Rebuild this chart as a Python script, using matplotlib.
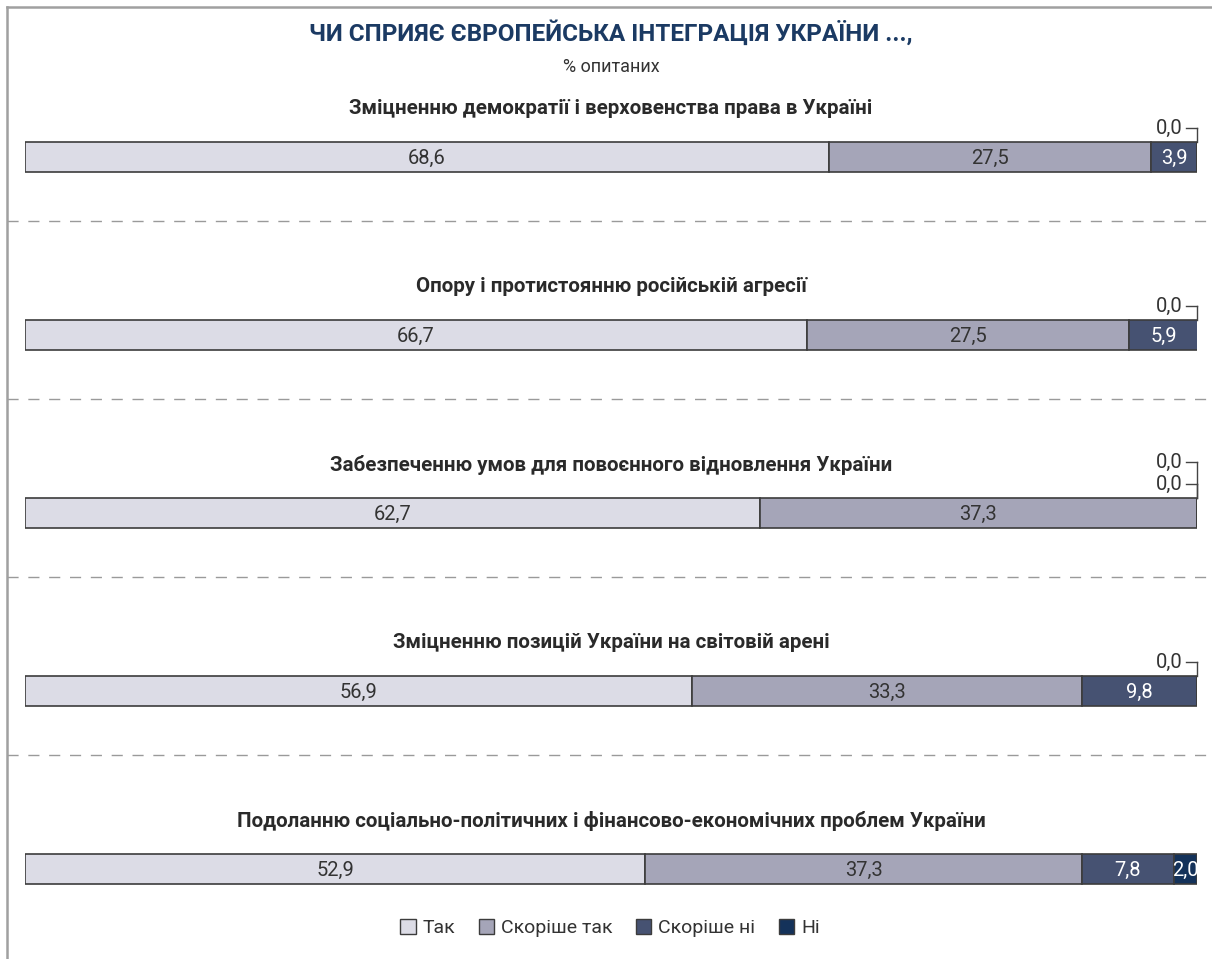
import matplotlib
matplotlib.use("Agg")
import matplotlib.pyplot as plt
from matplotlib.patches import Patch
from matplotlib.lines import Line2D
import matplotlib.transforms as mtransforms

# ---------------- data ----------------
categories = [
    "Зміцненню демократії і верховенства права в Україні",
    "Опору і протистоянню російській агресії",
    "Забезпеченню умов для повоєнного відновлення України",
    "Зміцненню позицій України на світовій арені",
    "Подоланню соціально-політичних і фінансово-економічних проблем України",
]
series_names = ["Так", "Скоріше так", "Скоріше ні", "Ні"]
tak = [68.6, 66.7, 62.7, 56.9, 52.9]
skorishe_tak = [27.5, 27.5, 37.3, 33.3, 37.3]
skorishe_ni = [3.9, 5.9, 0.0, 9.8, 7.8]
ni = [0.0, 0.0, 0.0, 0.0, 2.0]

title = "ЧИ СПРИЯЄ ЄВРОПЕЙСЬКА ІНТЕГРАЦІЯ УКРАЇНИ ...,"
subtitle = "% опитаних"

# ---------------- style ----------------
colors = ["#dcdce6", "#a5a5b8", "#465272", "#14325a"]
label_colors = ["#333333", "#333333", "white", "white"]
edge = "#3c3c3c"
title_color = "#1b3a63"

plt.rcParams["font.family"] = ["Roboto", "DejaVu Sans"]

W, H = 1212, 959
fig = plt.figure(figsize=(W / 100, H / 100), dpi=100)
fig.patch.set_facecolor("white")

bar_left_px, bar_right_px = 25, 1197
first_center_px, step_px = 157, 178
ax = fig.add_axes([bar_left_px / W, 0, (bar_right_px - bar_left_px) / W, 1])
ax.set_xlim(0, 100)
ax.set_ylim((H - first_center_px) / step_px, -first_center_px / step_px)
ax.axis("off")

px = 1.0 / step_px  # one pixel in y data units
bar_h = 30 * px

series = [tak, skorishe_tak, skorishe_ni, ni]
ypos = list(range(len(categories)))
lefts = [0.0] * len(categories)
for s, vals in enumerate(series):
    ax.barh(ypos, vals, left=lefts, height=bar_h, color=colors[s],
            edgecolor=edge, linewidth=1.2, zorder=2)
    for i, v in enumerate(vals):
        if v > 0:
            ax.text(lefts[i] + v / 2, i + 1 * px, f"{v:.1f}".replace(".", ","),
                    ha="center", va="center", fontsize=14.5, fontweight="normal",
                    color=label_colors[s], zorder=3)
    lefts = [l + v for l, v in zip(lefts, vals)]

# zero-value callouts
for i in ypos:
    zeros = [s for s in range(len(series)) if series[s][i] == 0]
    top = i - bar_h / 2
    for k, s in enumerate(zeros):
        y = top - (14 + 22 * k) * px
        ax.text(98.8, y, "0,0", ha="right", va="center", fontsize=14.5,
                fontweight="normal", color="#333333", zorder=3)
        ax.add_line(Line2D([99.05, 100], [y, y], color="#444444", lw=1.0, clip_on=False))
        ax.add_line(Line2D([100, 100], [y, top], color="#444444", lw=1.0, clip_on=False))

# group titles
for i, c in enumerate(categories):
    ax.text(50, i - 48 * px, c, ha="center", va="center", fontsize=14.8,
            fontweight="bold", color="#2a2a2a")

# dashed separators
blend = mtransforms.blended_transform_factory(fig.transFigure, ax.transData)
for i in ypos[:-1]:
    y = i + 64 * px
    ax.add_line(Line2D([7 / W, 1.0], [y, y], transform=blend, color="#9a9a9a",
                       lw=1.0, dashes=(8, 7), clip_on=False))

# frame (top and left)
fig.add_artist(Line2D([6.5 / W, 1.0], [1 - 6.5 / H, 1 - 6.5 / H], color="#a0a0a0", lw=1.8))
fig.add_artist(Line2D([6.5 / W, 6.5 / W], [0, 1 - 6.5 / H], color="#a0a0a0", lw=1.8))

# title
cx = (bar_left_px + bar_right_px) / 2 / W
fig.text(cx, 1 - 33 / H, title, ha="center", va="center", fontsize=17.5,
         fontweight="bold", color=title_color)
fig.text(cx, 1 - 67 / H, subtitle, ha="center", va="center", fontsize=13,
         fontweight="normal", color="#333333")

# legend
handles = [Patch(facecolor=colors[s], edgecolor=edge, linewidth=1.0) for s in range(4)]
fig.legend(handles, series_names, loc="center", bbox_to_anchor=(610 / W, 1 - 928 / H),
           ncol=4, frameon=False, handlelength=0.8, handleheight=0.8,
           handletextpad=0.35, columnspacing=1.2, labelcolor="#333333",
           prop={"weight": "normal", "size": 14})

fig.savefig("out.png", dpi=100, facecolor="white")
